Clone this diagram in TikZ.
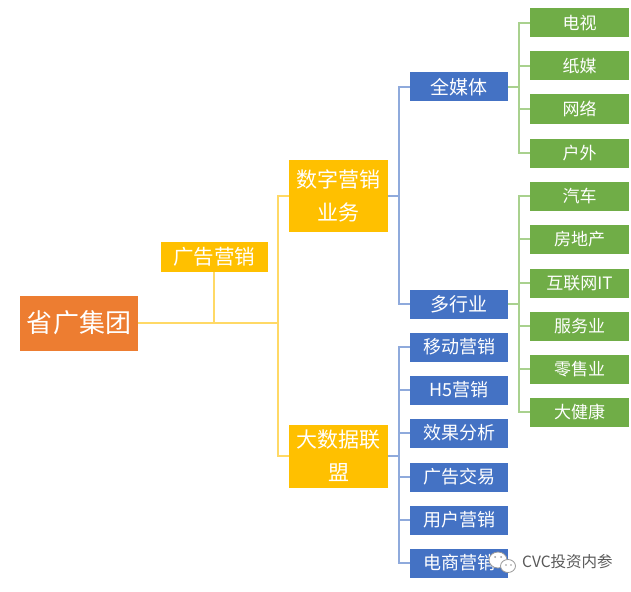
\documentclass[tikz,border=0pt]{standalone}
\usepackage{fontspec}
\setmainfont{Noto Sans CJK SC}
\usetikzlibrary{calc}
\definecolor{rootc}{HTML}{ED7D31}
\definecolor{goldc}{HTML}{FFC000}
\definecolor{bluec}{HTML}{4472C4}
\definecolor{greenc}{HTML}{70AD47}
\definecolor{goldl}{HTML}{FFD966}
\definecolor{bluel}{HTML}{8FAADC}
\definecolor{greenl}{HTML}{A9D18E}
\tikzset{
    tbox/.style={text=white,inner sep=0pt,align=center},
    goldbox/.style={tbox,fill=goldc,minimum width=99pt,font=\fontsize{21}{33}\selectfont},
    midbox/.style={tbox,fill=bluec,minimum width=98pt,minimum height=29pt,font=\fontsize{18}{18}\selectfont},
    leafbox/.style={tbox,fill=greenc,minimum width=99pt,minimum height=29pt,font=\fontsize{17}{17}\selectfont},
    yline/.style={draw=goldl,line width=1.4pt},
    bline/.style={draw=bluel,line width=1.2pt},
    gline/.style={draw=greenl,line width=1.2pt},
    wmark/.style={draw=gray!80,fill=white,line width=.8pt},
}
\newcommand\midnode[3]{\node(#1)[midbox] at (459,#2){#3};}
\newcommand\leafnode[3]{\node(#1)[leafbox] at (579.5,#2){#3};}
\begin{document}
\begin{tikzpicture}[x=1pt,y=-1pt]
    \useasboundingbox (0,0) rectangle (631,591);
    % left part
    \node(root)[tbox,fill=rootc,minimum width=118pt,minimum height=55pt,font=\fontsize{26}{26}\selectfont] at (79,323){省广集团};
    \node(ggyx)[tbox,fill=goldc,minimum width=107pt,minimum height=30pt,font=\fontsize{20.5}{20.5}\selectfont] at (214,257){广告营销};
    \node(szyx)[goldbox,minimum height=72pt] at (338.5,196){数字营销\\业务};
    \node(dsj)[goldbox,minimum height=63pt] at (338.5,456){大数据联\\盟};
    % blue column
    \midnode{qmt}{87}{\fontsize{19}{19}\selectfont 全媒体}
    \midnode{dhy}{304}{\fontsize{19}{19}\selectfont 多行业}
    \midnode{yd}{347}{移动营销}
    \midnode{h5}{390}{H5营销}
    \midnode{xg}{433}{效果分析}
    \midnode{jy}{477}{广告交易}
    \midnode{yh}{520}{用户营销}
    \midnode{ds}{563}{电商营销}
    % green column
    \leafnode{ds1}{23}{电视}
    \leafnode{zm}{66}{纸媒}
    \leafnode{wl}{109}{网络}
    \leafnode{hw}{153}{户外}
    \leafnode{qc}{196}{汽车}
    \leafnode{fdc}{239}{房地产}
    \leafnode{it}{283}{互联网IT}
    \leafnode{fw}{326}{服务业}
    \leafnode{ls}{369}{零售业}
    \leafnode{jk}{412}{大健康}
    % joints
    \coordinate(j1) at (278,323);
    \coordinate(j2) at (399,196);
    \coordinate(j3) at (399,456);
    \coordinate(j4) at (519,87);
    \coordinate(j5) at (519,304);
    % connectors
    \draw[yline] (root.east) -- (j1);
    \draw[yline] (ggyx.south) -- (ggyx.south |- j1);
    \draw[yline] (szyx.west) -| (j1) |- (dsj.west);
    \draw[bline] (szyx.east) -- (j2);
    \draw[bline] (qmt.west) -| (j2) |- (dhy.west);
    \draw[bline] (dsj.east) -- (j3);
    \draw[bline] (yd.west) -| (j3) |- (ds.west);
    \draw[bline] (j3 |- h5) -- (h5.west);
    \draw[bline] (j3 |- xg) -- (xg.west);
    \draw[bline] (j3 |- jy) -- (jy.west);
    \draw[bline] (j3 |- yh) -- (yh.west);
    \draw[gline] (qmt.east) -- (j4);
    \draw[gline] (ds1.west) -| (j4) |- (hw.west);
    \draw[gline] (j4 |- zm) -- (zm.west);
    \draw[gline] (j4 |- wl) -- (wl.west);
    \draw[gline] (dhy.east) -- (j5);
    \draw[gline] (qc.west) -| (j5) |- (jk.west);
    \draw[gline] (j5 |- fdc) -- (fdc.west);
    \draw[gline] (j5 |- it) -- (it.west);
    \draw[gline] (j5 |- fw) -- (fw.west);
    \draw[gline] (j5 |- ls) -- (ls.west);
    % watermark
    \draw[wmark] (498,560) ellipse (9pt and 8pt);
    \draw[wmark] (508,566) ellipse (7.5pt and 6.5pt);
    \fill[gray!80] (495,557) circle (1pt) (501,557) circle (1pt) (506,565) circle (.8pt) (511,565) circle (.8pt);
    \node(wm)[text=gray!70!black,inner sep=0pt,anchor=west,font=\fontsize{15.5}{15.5}\selectfont] at (522,562){CVC投资内参};
\end{tikzpicture}
\end{document}
